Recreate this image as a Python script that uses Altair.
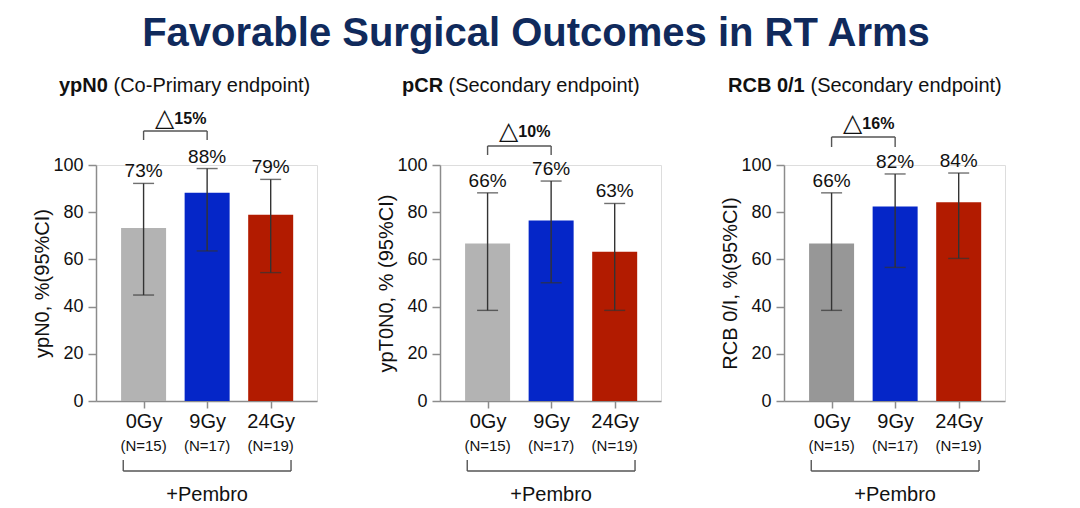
import json
import altair as alt
import pandas as pd

# ---------------- data ----------------
doses = ["0Gy", "9Gy", "24Gy"]
n_labels = ["(N=15)", "(N=17)", "(N=19)"]

ypn0_rate = [73.3, 88.2, 78.9]
ypn0_lo = [44.9, 63.6, 54.4]
ypn0_hi = [92.2, 98.5, 93.9]
ypn0_text = ["73%", "88%", "79%"]
ypn0_delta = "15%"

pcr_rate = [66.7, 76.5, 63.2]
pcr_lo = [38.4, 50.1, 38.4]
pcr_hi = [88.2, 93.2, 83.7]
pcr_text = ["66%", "76%", "63%"]
pcr_delta = "10%"

rcb_rate = [66.7, 82.4, 84.2]
rcb_lo = [38.4, 56.6, 60.4]
rcb_hi = [88.2, 96.2, 96.6]
rcb_text = ["66%", "82%", "84%"]
rcb_delta = "16%"

y_ticks = [0, 20, 40, 60, 80, 100]

FONT = "Liberation Sans"
W, H = 221, 236
ERR = "#333333"
LINE = "#555555"


def panel(rate, lo, hi, text, delta, grey, ytitle, bold_t, norm_t, bold_x, norm_x,
          brk_y, brk_leg, delta_y):
    df = pd.DataFrame({
        "pos": [0, 1, 2], "dose": doses, "n": n_labels, "rate": rate,
        "lo": lo, "hi": hi, "label": text,
        "color": [grey, "#0526c8", "#b21b00"],
    })
    base = alt.Chart(df)
    xscale = alt.Scale(domain=[-0.67, 2.65], nice=False, zero=False)
    yscale = alt.Scale(domain=[0, 100], nice=False)
    x = alt.X("pos:Q", scale=xscale, axis=alt.Axis(
        values=[0, 1, 2], labelExpr=json.dumps(doses) + "[datum.value]",
        title=None, grid=False, labelFontSize=20, labelPadding=3, tickSize=7,
        labelColor="#111111", domainColor="#8c8c8c", tickColor="#8c8c8c",
        domainWidth=1.5, tickWidth=1.5, labelFont=FONT))

    def Y(f):
        return alt.Y(f, scale=yscale, title=ytitle, axis=alt.Axis(
            values=y_ticks, grid=False, tickSize=8, labelFontSize=18,
            labelPadding=5, labelColor="#111111", domainColor="#8c8c8c",
            tickColor="#8c8c8c", domainWidth=1.5, tickWidth=1.5,
            titleFontSize=20, titleFontWeight="normal", titleColor="#111111",
            titlePadding=0, labelFont=FONT, titleFont=FONT))

    bars = base.mark_bar(size=45).encode(
        x=x, y=Y("rate:Q"), color=alt.Color("color:N", scale=None))
    err = base.mark_rule(color=ERR, strokeWidth=1.4).encode(
        x="pos:Q", y=Y("lo:Q"), y2="hi:Q")
    cap_hi = base.mark_tick(orient="horizontal", size=21, thickness=1.4,
                            color=ERR).encode(x="pos:Q", y=Y("hi:Q"))
    cap_lo = base.mark_tick(orient="horizontal", size=21, thickness=1.4,
                            color=ERR).encode(x="pos:Q", y=Y("lo:Q"))
    vals = base.mark_text(baseline="alphabetic", dy=-6, fontSize=19,
                          font=FONT, color="#111111").encode(
        x="pos:Q", y=Y("hi:Q"), text="label:N")
    ns = base.mark_text(baseline="middle", fontSize=15, font=FONT,
                        color="#111111").encode(
        x="pos:Q", y=alt.value(H + 45), text="n:N")

    one = alt.Chart(pd.DataFrame({"k": [0]}))
    # bottom bracket
    b_h = one.mark_rule(color=LINE, strokeWidth=1.4).encode(
        x=alt.datum(-0.32), x2=alt.datum(2.32), y=alt.value(H + 70))
    b_l = one.mark_rule(color=LINE, strokeWidth=1.4).encode(
        x=alt.datum(-0.32), y=alt.value(H + 59), y2=alt.value(H + 70))
    b_r = one.mark_rule(color=LINE, strokeWidth=1.4).encode(
        x=alt.datum(2.32), y=alt.value(H + 59), y2=alt.value(H + 70))
    pem = one.mark_text(baseline="middle", fontSize=20, font=FONT,
                        color="#111111").encode(
        x=alt.datum(1), y=alt.value(H + 94), text=alt.value("+Pembro"))
    # delta bracket
    d_h = one.mark_rule(color=LINE, strokeWidth=1.4).encode(
        x=alt.datum(0), x2=alt.datum(1), y=alt.value(brk_y))
    d_l = one.mark_rule(color=LINE, strokeWidth=1.4).encode(
        x=alt.datum(0), y=alt.value(brk_y), y2=alt.value(brk_y + brk_leg))
    d_r = one.mark_rule(color=LINE, strokeWidth=1.4).encode(
        x=alt.datum(1), y=alt.value(brk_y), y2=alt.value(brk_y + brk_leg))
    tri = one.mark_text(baseline="middle", align="right", dx=-1, fontSize=25,
                        font="DejaVu Sans", color="#111111").encode(
        x=alt.datum(0.5), y=alt.value(delta_y), text=alt.value("\u25b3"))
    dnum = one.mark_text(baseline="middle", align="left", dx=-1, fontSize=16,
                         font=FONT, fontWeight="bold", color="#111111").encode(
        x=alt.datum(0.5), y=alt.value(delta_y + 1), text=alt.value(delta))
    # panel title
    t_b = one.mark_text(baseline="middle", align="left", fontSize=20, font=FONT,
                        fontWeight="bold", color="#111111").encode(
        x=alt.value(bold_x), y=alt.value(-79), text=alt.value(bold_t))
    t_n = one.mark_text(baseline="middle", align="left", fontSize=20, font=FONT,
                        color="#111111").encode(
        x=alt.value(norm_x), y=alt.value(-79), text=alt.value(norm_t))

    return alt.layer(bars, err, cap_hi, cap_lo, vals, ns, b_h, b_l, b_r, pem,
                     d_h, d_l, d_r, tri, dnum, t_b, t_n).properties(
        width=W, height=H)


p1 = panel(ypn0_rate, ypn0_lo, ypn0_hi, ypn0_text, ypn0_delta, "#b3b3b3",
           "ypN0, %(95%CI)", "ypN0", "(Co-Primary endpoint)", -37, 17.5,
           -34, 9, -47)
p2 = panel(pcr_rate, pcr_lo, pcr_hi, pcr_text, pcr_delta, "#b3b3b3",
           "ypT0N0, % (95%CI)", "pCR", "(Secondary endpoint)", -38, 8.5,
           -19, 9, -34)
p3 = panel(rcb_rate, rcb_lo, rcb_hi, rcb_text, rcb_delta, "#979797",
           "RCB 0/I, %(95%CI)", "RCB 0/1", "(Secondary endpoint)", -56, 26.5,
           -28, 10, -42)

chart = alt.hconcat(p1, p2, p3, spacing=58).properties(
    title=alt.TitleParams("Favorable Surgical Outcomes in RT Arms",
                          fontSize=40, font=FONT, fontWeight="bold",
                          color="#102a5c", anchor="middle", offset=22, dx=17),
    padding={"left": 24, "top": 5, "right": 5, "bottom": 0},
).configure_view(stroke=None).configure(font=FONT)

chart.save("out.html", embed_options={"renderer": "svg", "actions": False})
